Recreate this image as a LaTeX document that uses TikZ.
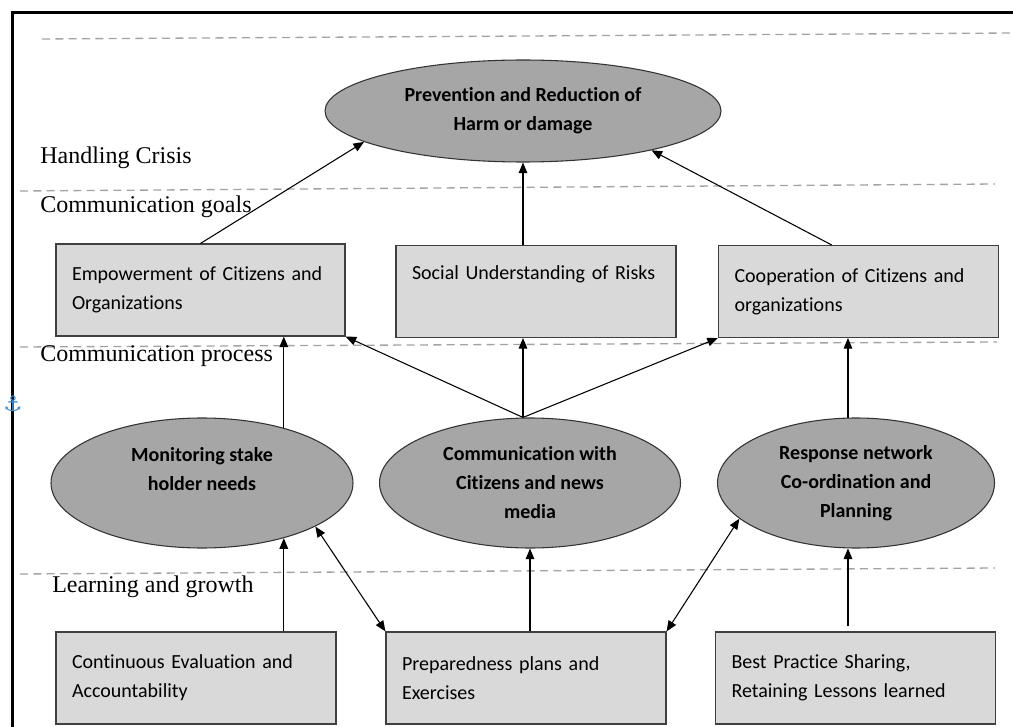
\documentclass[tikz,border=0pt]{standalone}
\usepackage{fontspec}
\setmainfont{Liberation Serif}
\newfontfamily\calibri[Ligatures={NoCommon}]{Carlito}
\newfontfamily\simbolos{DejaVu Sans}
\usepackage{tikz}
\usetikzlibrary{arrows.meta,shapes.geometric}
\definecolor{gris}{HTML}{A6A6A6}
\definecolor{grisclaro}{HTML}{D9D9D9}
\definecolor{guia}{HTML}{A3A3A3}
\definecolor{ancla}{HTML}{3A8FD6}
\tikzset{
  elipse/.style={ellipse,fill=gris,draw=black!80,line width=0.8pt,inner sep=0pt,align=center,font=\calibri\bfseries\fontsize{15}{21.75}\selectfont},
  caja/.style={rectangle,fill=grisclaro,draw=black!75,line width=0.8pt,minimum height=69pt,text width=186pt,inner xsep=12pt,align=left,font=\calibri\fontsize{15}{21.75}\selectfont},
  flecha/.style={-{Triangle[length=8pt,width=6.5pt]},line width=0.8pt,black},
  doble/.style={{Triangle[length=8pt,width=6.5pt]}-{Triangle[length=8pt,width=6.5pt]},line width=0.8pt,black},
  nivel/.style={guia,line width=1pt,dash pattern=on 6pt off 4pt},
  capa/.style={font=\fontsize{18}{21}\selectfont,anchor=base west,inner sep=0pt}
}
\begin{document}
\begin{tikzpicture}[x=0.75pt,y=-0.75pt]
\useasboundingbox (0,0) rectangle (1013,727);
\draw[line width=2.25pt] (1013,13) -- (12,13) -- (12,727);
\draw[nivel] (42,39) -- (1013,33);
\draw[nivel] (20,191) -- (995,184);
\draw[nivel] (20,347) -- (997,342);
\draw[nivel] (20,574) -- (995,568);
\node[capa] (crisis) at (40,164) {Handling Crisis};
\node[capa] (metas) at (40,213) {Communication goals};
\node[capa] (proceso) at (40,361) {Communication process};
\node[capa] (aprendizaje) at (52,592) {Learning and growth};
\node[text=ancla,inner sep=0pt,font=\simbolos\fontsize{16}{16}\selectfont] (marca) at (13,404) {⚓};
\node[elipse,minimum width=297pt,minimum height=76.5pt] (top) at (523,111) {Prevention and Reduction of\\Harm or damage};
\node[caja,text width=192.75pt] (A) at (200.5,290) {Empowerment of Citizens and\\Organizations};
\node[caja] (B) at (536,291.5) {Social Understanding of Risks\\\strut};
\node[caja] (C) at (858.5,291.5) {Cooperation of Citizens and\\organizations};
\node[elipse,minimum width=226.5pt,minimum height=97.5pt] (E1) at (202,483) {Monitoring stake\\holder needs\\\mbox{}};
\node[elipse,minimum width=225.75pt,minimum height=97.5pt] (E2) at (530,483) {Communication with\\Citizens and news\\media};
\node[elipse,minimum width=207.75pt,minimum height=97.5pt] (E3) at (856,483) {Response network\\Co-ordination and\\Planning};
\node[caja] (D) at (196,678) {Continuous Evaluation and\\Accountability};
\node[caja] (F) at (526,678) {Preparedness plans and\\Exercises};
\node[caja] (G) at (855.5,678) {Best Practice Sharing,\\Retaining Lessons learned};
\coordinate (nudo) at (E2.north -| top.south);
\draw[flecha] (A.north) -- (top.191);
\draw[flecha] (B.north -| nudo) -- (top.south);
\draw[flecha] (C.120) -- (top.343);
\draw[flecha] (E1.34) -- (E1.34 |- A.south);
\draw[flecha] (nudo) -- (A.south east);
\draw[flecha] (nudo) -- (nudo |- B.south);
\draw[flecha] (nudo) -- (C.south west);
\draw[flecha] (E3.97) -- (E3.97 |- C.south);
\draw[flecha] (E1.-34 |- D.north) -- (E1.-34);
\draw[doble] (E1.-21) -- (F.north west);
\draw[flecha] (E2.south |- F.north) -- (E2.south);
\draw[doble] (F.north east) -- (E3.197);
\draw[flecha,shorten <=3.75pt] (E3.263 |- G.north) -- (E3.263);
\end{tikzpicture}
\end{document}
